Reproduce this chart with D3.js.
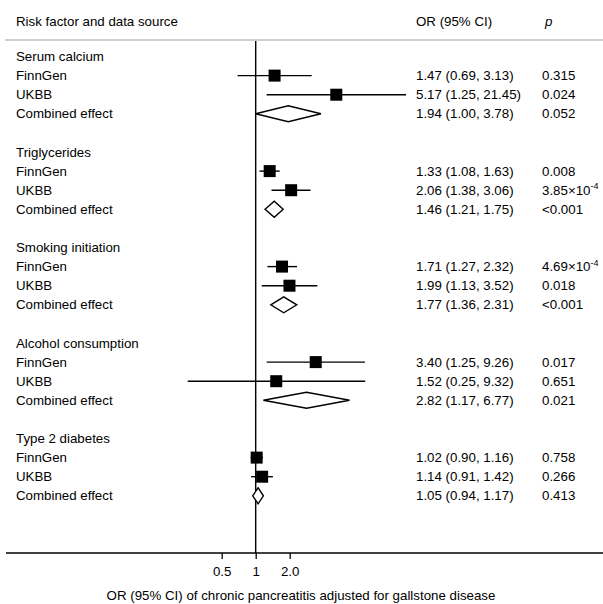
<!DOCTYPE html>
<html>
<head>
<meta charset="utf-8">
<script src="https://cdn.jsdelivr.net/npm/d3@7"></script>
<style>
  html, body { margin: 0; padding: 0; background: #fff; }
  svg text { font-family: "Liberation Sans", Arial, Helvetica, sans-serif; fill: #000; }
</style>
</head>
<body>
<svg id="chart" width="603" height="604"></svg>
<script>
// ---------- data ----------
const groups = ["Serum calcium", "Triglycerides", "Smoking initiation", "Alcohol consumption", "Type 2 diabetes"];
const sources = ["FinnGen", "UKBB", "Combined effect"];
const orValues = [
  [1.47, 5.17, 1.94],
  [1.33, 2.06, 1.46],
  [1.71, 1.99, 1.77],
  [3.40, 1.52, 2.82],
  [1.02, 1.14, 1.05]
];
const ciLower = [
  [0.69, 1.25, 1.00],
  [1.08, 1.38, 1.21],
  [1.27, 1.13, 1.36],
  [1.25, 0.25, 1.17],
  [0.90, 0.91, 0.94]
];
const ciUpper = [
  [3.13, 21.45, 3.78],
  [1.63, 3.06, 1.75],
  [2.32, 3.52, 2.31],
  [9.26, 9.32, 6.77],
  [1.16, 1.42, 1.17]
];
// p-values: [mantissa text, exponent or null]
const pValues = [
  [["0.315", null], ["0.024", null], ["0.052", null]],
  [["0.008", null], ["3.85×10", "-4"], ["<0.001", null]],
  [["4.69×10", "-4"], ["0.018", null], ["<0.001", null]],
  [["0.017", null], ["0.651", null], ["0.021", null]],
  [["0.758", null], ["0.266", null], ["0.413", null]]
];
const tickValues = [0.5, 1, 2];
const tickLabels = ["0.5", "1", "2.0"];

// ---------- layout ----------
const svg = d3.select("#chart");
const FS = 13.3;
const x = d3.scaleLog().domain([0.5, 2]).range([221.7, 289.7]);
const rowStep = 19.1;
const groupStep = 95.5;
const firstTitleY = 56.5;
const topLineY = 40;
const axisY = 553;
const xLabel = 16, xOR = 416, xP = 542;

// header
svg.append("text").attr("x", xLabel).attr("y", 21).attr("dy", "0.35em")
  .attr("font-size", FS).text("Risk factor and data source");
svg.append("text").attr("x", xOR).attr("y", 21).attr("dy", "0.35em")
  .attr("font-size", FS).text("OR (95% CI)");
svg.append("text").attr("x", xP + 3).attr("y", 21).attr("dy", "0.35em")
  .attr("font-size", FS).attr("font-style", "italic").text("p");

svg.append("line").attr("x1", 5).attr("x2", 603).attr("y1", topLineY).attr("y2", topLineY)
  .attr("stroke", "#cfcfcf").attr("stroke-width", 2);

// reference line at OR = 1
svg.append("line").attr("x1", x(1)).attr("x2", x(1)).attr("y1", topLineY + 1).attr("y2", axisY)
  .attr("stroke", "#000").attr("stroke-width", 1.4);

const sq = 12, dh = 8;
groups.forEach((g, gi) => {
  const ty = firstTitleY + gi * groupStep;
  svg.append("text").attr("x", xLabel).attr("y", ty).attr("dy", "0.35em")
    .attr("font-size", FS).text(g);
  sources.forEach((s, si) => {
    const y = ty + (si + 1) * rowStep;
    svg.append("text").attr("x", xLabel).attr("y", y).attr("dy", "0.35em")
      .attr("font-size", FS).text(s);
    const or = orValues[gi][si], lo = ciLower[gi][si], hi = ciUpper[gi][si];
    svg.append("text").attr("x", xOR).attr("y", y).attr("dy", "0.35em")
      .attr("font-size", FS).text(`${or.toFixed(2)} (${lo.toFixed(2)}, ${hi.toFixed(2)})`);
    const [pm, pe] = pValues[gi][si];
    const pt = svg.append("text").attr("x", xP).attr("y", y).attr("dy", "0.35em")
      .attr("font-size", FS);
    pt.append("tspan").text(pm);
    if (pe) {
      pt.append("tspan").attr("font-size", 9).attr("dy", "-0.6em").text(pe);
    }
    if (si < 2) {
      svg.append("line").attr("x1", x(lo)).attr("x2", x(hi)).attr("y1", y).attr("y2", y)
        .attr("stroke", "#000").attr("stroke-width", 1.4);
      svg.append("rect").attr("x", x(or) - sq / 2).attr("y", y - sq / 2)
        .attr("width", sq).attr("height", sq).attr("fill", "#000");
    } else {
      const pts = [[x(lo), y], [x(or), y - dh], [x(hi), y], [x(or), y + dh]];
      svg.append("path").attr("d", "M" + pts.map(p => p.join(",")).join("L") + "Z")
        .attr("fill", "#fff").attr("stroke", "#000").attr("stroke-width", 1.4);
    }
  });
});

// axis
svg.append("line").attr("x1", 6).attr("x2", 603).attr("y1", axisY).attr("y2", axisY)
  .attr("stroke", "#000").attr("stroke-width", 1.3);
const axis = d3.axisBottom(x).tickValues(tickValues)
  .tickFormat((d, i) => tickLabels[i]).tickSize(6).tickPadding(8);
const ag = svg.append("g").attr("transform", `translate(0,${axisY})`).call(axis);
ag.select(".domain").remove();
ag.selectAll(".tick line").attr("stroke", "#000").attr("stroke-width", 1.3);
ag.selectAll(".tick text").attr("font-size", FS)
  .attr("font-family", "'Liberation Sans', Arial, sans-serif");

svg.append("text").attr("x", 301).attr("y", 595).attr("text-anchor", "middle")
  .attr("dy", "0.35em").attr("font-size", FS)
  .text("OR (95% CI) of chronic pancreatitis adjusted for gallstone disease");
</script>
</body>
</html>
